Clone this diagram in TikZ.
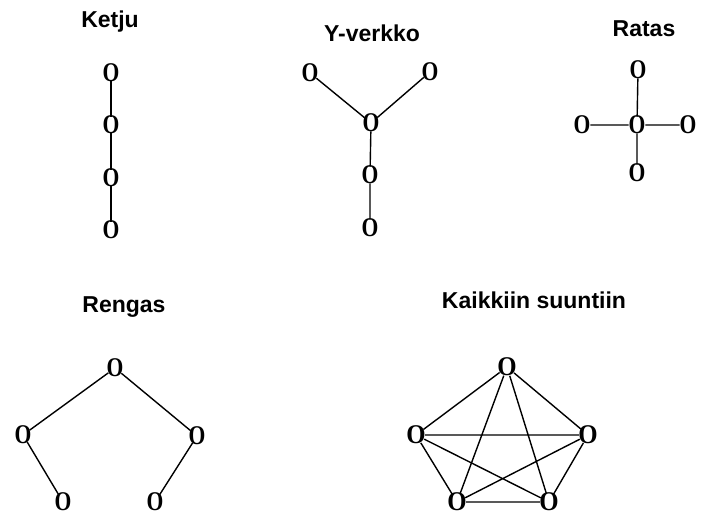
\documentclass[tikz,border=0pt]{standalone}
\usepackage{fontspec}
\usepackage{graphicx}
\setmainfont{Liberation Serif}
\newfontfamily\titlefont{Liberation Sans}
\newcommand{\vtxglyph}{\scalebox{0.8}[1]{\bfseries O}}
\newcommand{\roundglyph}{\scalebox{0.92}[1]{\bfseries O}}
\begin{document}
\begin{tikzpicture}[x=1pt,y=-1pt,
  vtx/.style={circle,inner sep=-3pt,font=\fontsize{27}{27}\selectfont},
  ttl/.style={font=\titlefont\bfseries\fontsize{23}{23}\selectfont},
  edge/.style={line width=1.4pt}]
\useasboundingbox (0,0) rectangle (701,518);
% Ketju
\node[ttl] (t1) at (110,22) {Ketju};
\node[vtx] (k1) at (111,73) {\vtxglyph};
\node[vtx] (k2) at (111,125) {\vtxglyph};
\node[vtx] (k3) at (111,178) {\vtxglyph};
\node[vtx] (k4) at (111,230) {\vtxglyph};
\draw[edge] (k1)--(k2) (k2)--(k3) (k3)--(k4);
% Y-verkko
\node[ttl] (t2) at (372,33) {Y-verkko};
\node[vtx] (y1) at (310,73) {\vtxglyph};
\node[vtx] (y2) at (430,72) {\vtxglyph};
\node[vtx] (y3) at (371,123) {\vtxglyph};
\node[vtx] (y4) at (370,175) {\vtxglyph};
\node[vtx] (y5) at (370,228) {\vtxglyph};
\draw[edge] (y1)--(y3) (y2)--(y3) (y3)--(y4) (y4)--(y5);
% Ratas
\node[ttl] (t3) at (644,29) {Ratas};
\node[vtx] (r1) at (638,70) {\vtxglyph};
\node[vtx] (r2) at (582,125) {\vtxglyph};
\node[vtx] (r3) at (637,125) {\vtxglyph};
\node[vtx] (r4) at (688,125) {\vtxglyph};
\node[vtx] (r5) at (637,173) {\vtxglyph};
\draw[edge] (r1)--(r3) (r2)--(r3) (r3)--(r4) (r3)--(r5);
% Rengas
\node[ttl] (t4) at (124,307) {Rengas};
\node[vtx] (g1) at (115,368) {\vtxglyph};
\node[vtx] (g2) at (23,435) {\vtxglyph};
\node[vtx] (g3) at (197,436) {\vtxglyph};
\node[vtx] (g4) at (63,502) {\vtxglyph};
\node[vtx] (g5) at (155,502) {\vtxglyph};
\draw[edge] (g1)--(g2) (g1)--(g3) (g2)--(g4) (g3)--(g5);
% Kaikkiin suuntiin
\node[ttl] (t5) at (534,300) {Kaikkiin suuntiin};
\node[vtx] (p1) at (507,367) {\roundglyph};
\node[vtx] (p2) at (416,435) {\roundglyph};
\node[vtx] (p3) at (588,435) {\roundglyph};
\node[vtx] (p4) at (457,502) {\roundglyph};
\node[vtx] (p5) at (549,502) {\roundglyph};
\draw[edge] (p1)--(p2) (p1)--(p3) (p1)--(p4) (p1)--(p5)
  (p2)--(p3) (p2)--(p4) (p2)--(p5) (p3)--(p4) (p3)--(p5) (p4)--(p5);
\end{tikzpicture}
\end{document}
